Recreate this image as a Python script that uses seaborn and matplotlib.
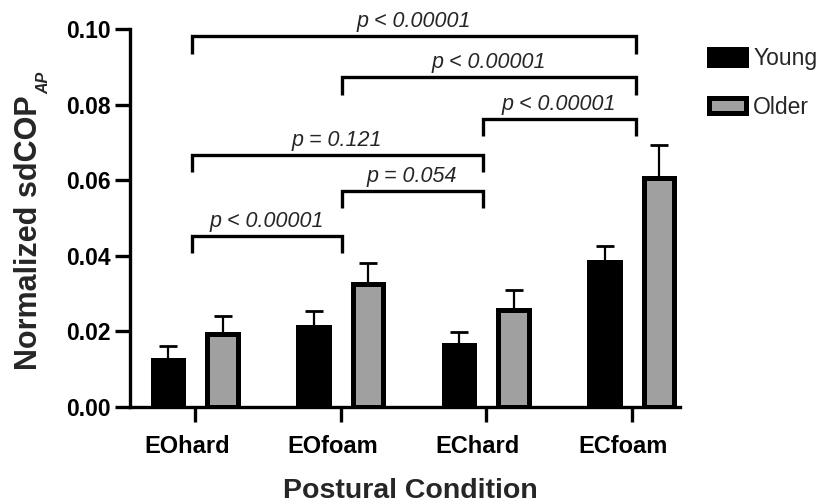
import numpy as np
import pandas as pd
import matplotlib
matplotlib.use("Agg")
import matplotlib.pyplot as plt
import matplotlib.transforms as mtransforms
import seaborn as sns

# ---------------- data ----------------
conditions = ["EOhard", "EOfoam", "EChard", "ECfoam"]
groups = ["Young", "Older"]
young_mean = [0.0124, 0.0212, 0.0164, 0.0384]
young_err = [0.0038, 0.0041, 0.0034, 0.0043]
older_mean = [0.0194, 0.0325, 0.0257, 0.0605]
older_err = [0.0047, 0.0056, 0.0054, 0.0089]
yticks = [0.00, 0.02, 0.04, 0.06, 0.08, 0.10]
comparisons = [(0, 3), (1, 3), (2, 3), (0, 2), (1, 2), (0, 1)]
p_labels = ["p < 0.00001", "p < 0.00001", "p < 0.00001",
            "p = 0.121", "p = 0.054", "p < 0.00001"]

# ---------------- layout / style ----------------
bracket_levels = [0.0981, 0.0873, 0.0763, 0.0668, 0.0572, 0.0453]
bracket_anchor = [-0.025, 1.005, 1.975, 3.027]
bracket_drop = 0.0046

sns.set_style("ticks")
plt.rcParams["font.family"] = ["Liberation Sans", "DejaVu Sans"]

df = pd.DataFrame({
    "condition": conditions * 2,
    "group": ["Young"] * 4 + ["Older"] * 4,
    "value": young_mean + older_mean,
})

fig = plt.figure(figsize=(8.24, 5.04), dpi=100)
ax = fig.add_axes([130 / 824, 1 - 407 / 504, 550 / 824, (407 - 29.3) / 504])

sns.barplot(data=df, x="condition", y="value", hue="group",
            order=conditions, hue_order=groups,
            palette=["#000000", "#a0a0a0"], errorbar=None,
            width=0.75, gap=0.44, edgecolor="black", linewidth=3.6,
            saturation=1, ax=ax)

errs = [young_err, older_err]
means = [young_mean, older_mean]
for cont, m, e in zip(ax.containers, means, errs):
    xs = [p.get_x() + p.get_width() / 2 for p in cont.patches]
    ax.errorbar(xs, m, yerr=[np.zeros(len(e)), e], fmt="none",
                ecolor="black", elinewidth=1.6, capsize=6.2, capthick=2.0,
                zorder=1)

ax.set_ylim(0, 0.10)
ax.set_xlim(-0.449, 3.331)
ax.set_yticks(yticks)
ax.set_yticklabels([f"{t:.2f}" for t in yticks])
sns.despine(ax=ax)
for s in ["left", "bottom"]:
    ax.spines[s].set_linewidth(2.4)
    ax.spines[s].set_color("black")
ax.tick_params(axis="both", width=2.4, length=11, color="black",
               labelcolor="black")
ax.tick_params(axis="x", pad=9.5, labelsize=17)
ax.tick_params(axis="y", pad=3, labelsize=16.5)
shift = mtransforms.ScaledTranslation(-8.5 / 100, 0, fig.dpi_scale_trans)
for lab in ax.get_xticklabels():
    lab.set_fontweight("bold")
    lab.set_transform(lab.get_transform() + shift)
for lab in ax.get_yticklabels():
    lab.set_fontweight("bold")

ax.set_xlabel("Postural Condition", fontsize=20.5, fontweight="bold")
ax.set_ylabel("Normalized sdCOP", fontsize=22, fontweight="bold")
ax.xaxis.set_label_coords(0.510, -0.188)
ax.yaxis.set_label_coords(-0.157, 0.462)

# significance brackets
for (i, j), lvl, txt in zip(comparisons, bracket_levels, p_labels):
    x1, x2 = bracket_anchor[i], bracket_anchor[j]
    ax.plot([x1, x1, x2, x2], [lvl - bracket_drop, lvl, lvl, lvl - bracket_drop],
            color="black", lw=2.4, clip_on=False,
            solid_joinstyle="miter", solid_capstyle="butt")
    ax.annotate(txt, xy=((x1 + x2) / 2, lvl), xytext=(0, 3),
                textcoords="offset points", ha="center", va="bottom",
                fontsize=15.5, fontstyle="italic", annotation_clip=False)

handles, labels = ax.get_legend_handles_labels()
ax.legend(handles, labels, loc="upper left",
          bbox_to_anchor=(709 / 824, 1 - 47 / 504),
          bbox_transform=fig.transFigure, frameon=False,
          fontsize=16.5, handlelength=1.6, handleheight=0.66,
          handletextpad=0.33, labelspacing=1.12, borderpad=0,
          borderaxespad=0)

# subscript "AP" of the y label
fig.canvas.draw()
bb = ax.yaxis.label.get_window_extent()
fig.text(bb.x1 + 5, bb.y1 + 1, "AP", rotation=90, rotation_mode="anchor",
         ha="left", va="baseline", fontsize=11.5, fontweight="bold",
         fontstyle="italic", transform=mtransforms.IdentityTransform())

fig.savefig("out.png", dpi=100)
